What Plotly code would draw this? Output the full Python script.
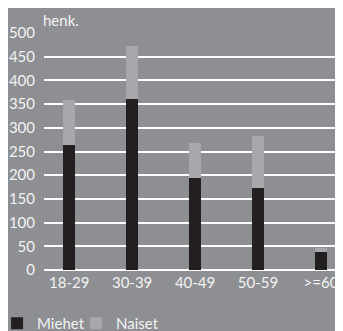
import plotly.graph_objects as go

categories = ["18-29", "30-39", "40-49", "50-59", ">=60"]
miehet = [263, 360, 194, 173, 38]
naiset = [95, 112, 74, 110, 8]
y_ticks = [0, 50, 100, 150, 200, 250, 300, 350, 400, 450, 500]

BG = "#8e8f93"
TXT = "#f2f2f2"
FONT = "Lato"

fig = go.Figure()
fig.add_trace(go.Bar(x=categories, y=miehet, name="Miehet", marker_color="#231f20",
                     marker_line_width=0, width=0.19, legend="legend", showlegend=True))
fig.add_trace(go.Bar(x=categories, y=naiset, name="Naiset", marker_color="#a8a7ab",
                     marker_line_width=0, width=0.19, legend="legend2", showlegend=True))

legend_common = dict(orientation="h", xanchor="left", y=-0.156, yanchor="top",
                     font=dict(size=15, color=TXT), bgcolor="rgba(0,0,0,0)")

fig.update_layout(
    barmode="stack",
    showlegend=True,
    width=335, height=323,
    margin=dict(l=36, r=0, t=25, b=61, autoexpand=False),
    paper_bgcolor=BG, plot_bgcolor=BG,
    font=dict(family=FONT, size=15, color=TXT),
    xaxis=dict(range=[-0.4, 4.35], showgrid=False, showline=False, zeroline=False,
               automargin=False, ticks="", ticklabelstandoff=2,
               tickfont=dict(size=15, color=TXT)),
    yaxis=dict(range=[0, 500], tickvals=y_ticks, showgrid=True, gridcolor="#ffffff",
               gridwidth=1.5, zeroline=True, zerolinecolor="#ffffff", zerolinewidth=1.5,
               automargin=False, ticks="", ticklabelstandoff=8,
               tickfont=dict(size=15, color=TXT)),
    legend=dict(x=-0.157, visible=True, **legend_common),
    legend2=dict(x=0.107, visible=True, **legend_common),
    annotations=[dict(text="henk.", xref="paper", yref="paper", x=0, y=1,
                      xanchor="left", yanchor="bottom", showarrow=False,
                      xshift=-3, yshift=2,
                      font=dict(size=15, color=TXT, family=FONT))],
)

fig.write_html("out.html")
